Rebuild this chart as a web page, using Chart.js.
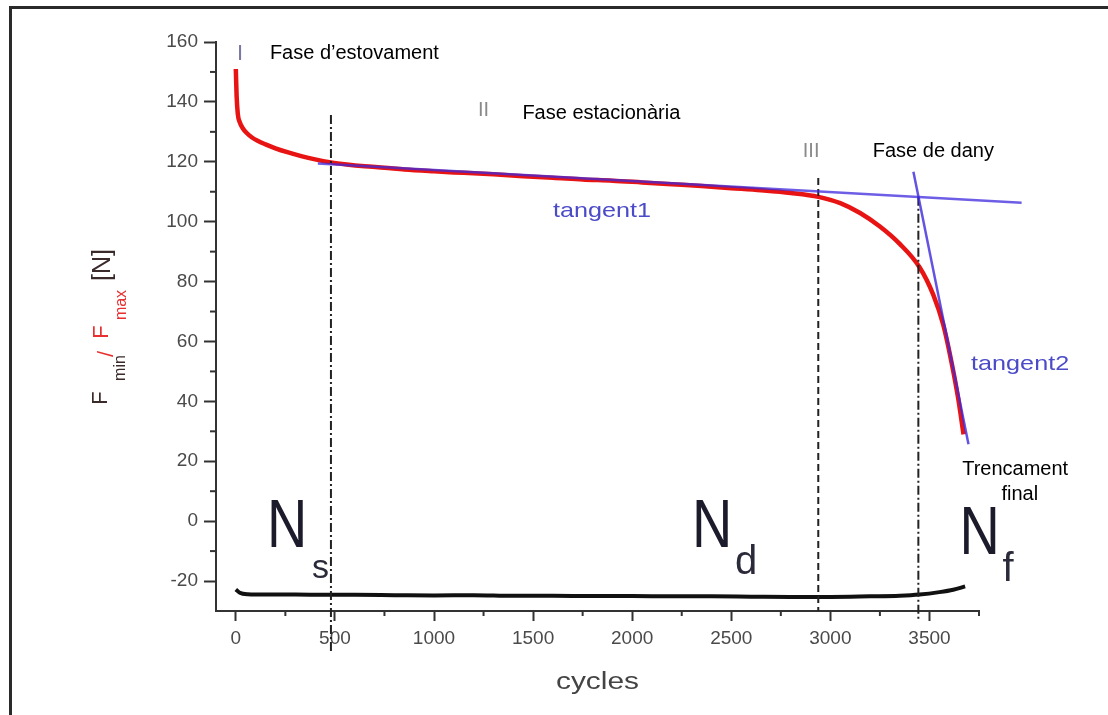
<!DOCTYPE html>
<html>
<head>
<meta charset="utf-8">
<script src="https://cdn.jsdelivr.net/npm/chart.js@4/dist/chart.umd.min.js"></script>
<style>
html,body{margin:0;padding:0;background:#fff;overflow:hidden}
canvas{display:block}
</style>
</head>
<body>
<canvas id="c" width="1108" height="715"></canvas>
<script>
// ---- data ----
const redCycles = [0, 4, 10, 20, 35, 55, 80, 110, 150, 200, 260, 330, 400, 480, 560, 650, 750, 850, 1000, 1150, 1300, 1450, 1600, 1750, 1900, 2050, 2200, 2350, 2500, 2650, 2800, 2940, 3050, 3150, 3250, 3350, 3450, 3520, 3570, 3610, 3645, 3672];
const redForce  = [151, 142, 136, 133.2, 131.2, 129.6, 128.2, 127, 125.8, 124.5, 123.2, 121.9, 120.8, 119.8, 119.1, 118.5, 118.0, 117.4, 116.8, 116.3, 115.8, 115.2, 114.7, 114.1, 113.7, 113.1, 112.5, 111.9, 111.2, 110.5, 109.6, 108.3, 106.2, 102.9, 98.4, 92.6, 84.8, 75.5, 65.5, 53.5, 41, 29];

const blackCycles = [0, 20, 60, 150, 300, 450, 600, 800, 1000, 1200, 1400, 1600, 1800, 2000, 2200, 2400, 2600, 2800, 3000, 3200, 3350, 3450, 3550, 3620, 3680];
const blackForce  = [-22.8, -23.9, -24.4, -24.5, -24.5, -24.6, -24.6, -24.7, -24.8, -24.7, -24.9, -24.9, -25.0, -25.0, -25.1, -25.1, -25.2, -25.3, -25.3, -25.1, -24.9, -24.5, -23.7, -22.9, -21.8];

const tangent1Cycles = [414, 3965];
const tangent1Force  = [119.4, 106.3];
const tangent2Cycles = [3419, 3697];
const tangent2Force  = [116.7, 25.7];

const markerNames  = ['Ns', 'Nd', 'Nf'];
const markerCycles = [480, 2939, 3444];
const markerTop    = [135.6, 114.6, 108.3];
const markerBottom = [-43.5, -30, -33];

const xTickValues = [0, 500, 1000, 1500, 2000, 2500, 3000, 3500];
const yTickValues = [-20, 0, 20, 40, 60, 80, 100, 120, 140, 160];
const xMinorTicks = [250, 750, 1250, 1750, 2250, 2750, 3250, 3750];
const yMinorTicks = [-10, 10, 30, 50, 70, 90, 110, 130, 150];

// ---- annotation texts (data coordinates) ----
const SANS = '"Liberation Sans", Arial, sans-serif';
const labels = [
  {t:'I', x:22, y:156, font:'22px '+SANS, c:'#7a78a0', a:'center'},
  {t:'Fase d\u2019estovament', x:172, y:156.3, font:'20px '+SANS, c:'#000', a:'left'},
  {t:'II', x:1250, y:137, font:'20px '+SANS, c:'#8a8a8a', a:'center'},
  {t:'Fase estacionària', x:1446, y:136, font:'20px '+SANS, c:'#000', a:'left'},
  {t:'III', x:2903, y:123.6, font:'20px '+SANS, c:'#8a8a8a', a:'center'},
  {t:'Fase de dany', x:3214, y:123.6, font:'20px '+SANS, c:'#000', a:'left'},
  {t:'tangent1', x:1600, y:103.4, font:'21px '+SANS, c:'#4b4bc8', a:'left', sx:1.2},
  {t:'tangent2', x:3710, y:52.5, font:'21px '+SANS, c:'#4b4bc8', a:'left', sx:1.2},
  {t:'Trencament', x:3665, y:17.1, font:'20px '+SANS, c:'#000', a:'left'},
  {t:'final', x:3956, y:8.8, font:'20px '+SANS, c:'#000', a:'center'},
  {t:'N', x:157, y:-2.3, font:'68px '+SANS, c:'#1b1b2c', a:'left', sx:0.82},
  {t:'s', x:384, y:-16, font:'34px '+SANS, c:'#2a2a3a', a:'left'},
  {t:'N', x:2302, y:-2.3, font:'68px '+SANS, c:'#1b1b2c', a:'left', sx:0.82},
  {t:'d', x:2519, y:-14, font:'40px '+SANS, c:'#2a2a3a', a:'left'},
  {t:'N', x:3651, y:-4.6, font:'68px '+SANS, c:'#1b1b2c', a:'left', sx:0.82},
  {t:'f', x:3868, y:-16.3, font:'40px '+SANS, c:'#2a2a3a', a:'left'}
];

function pts(xs, ys){ return xs.map((v,i)=>({x:v, y:ys[i]})); }

function drawText(ctx, t, x, y, font, color, align, sx){
  ctx.save();
  ctx.font = font; ctx.fillStyle = color; ctx.textBaseline = 'middle';
  ctx.translate(x, y);
  ctx.scale(sx || 1, 1);
  ctx.textAlign = align || 'left';
  ctx.fillText(t, 0, 0);
  ctx.restore();
}

const decor = {
  id: 'decor',
  beforeDraw(chart){
    const ctx = chart.ctx;
    ctx.save(); ctx.fillStyle = '#fff'; ctx.fillRect(0,0,chart.width,chart.height); ctx.restore();
  },
  afterDraw(chart){
    const {ctx, chartArea:a, scales:{x, y}} = chart;
    ctx.save();
    // minor ticks
    ctx.strokeStyle = '#333'; ctx.lineWidth = 2;
    yMinorTicks.forEach(v=>{ const p = y.getPixelForValue(v); ctx.beginPath(); ctx.moveTo(a.left-6, p); ctx.lineTo(a.left, p); ctx.stroke(); });
    xMinorTicks.forEach(v=>{ const p = x.getPixelForValue(v); ctx.beginPath(); ctx.moveTo(p, a.bottom); ctx.lineTo(p, a.bottom+5); ctx.stroke(); });
    // page frame (top & left)
    ctx.strokeStyle = '#2a2a2a'; ctx.lineWidth = 3;
    ctx.beginPath(); ctx.moveTo(9, 7.5); ctx.lineTo(chart.width, 7.5); ctx.stroke();
    ctx.beginPath(); ctx.moveTo(10.5, 6); ctx.lineTo(10.5, chart.height); ctx.stroke();
    ctx.restore();
    // annotations
    labels.forEach(l => drawText(ctx, l.t, x.getPixelForValue(l.x), y.getPixelForValue(l.y), l.font, l.c, l.a, l.sx));
    // x title
    drawText(ctx, 'cycles', (a.left + a.right)/2, a.bottom + 72, '23px '+SANS, '#444', 'center', 1.3);
    // y title (rotated, mixed colours)
    const parts = [
      {t:'F',   cy:398, bx:107, f:'22px', c:'#3a2a2a'},
      {t:'min', cy:368, bx:125, f:'16px', c:'#3a2a2a'},
      {t:'/',   cy:354, bx:113, f:'22px', c:'#e83030'},
      {t:'F',   cy:332, bx:108, f:'22px', c:'#e83030'},
      {t:'max', cy:305, bx:126, f:'16px', c:'#e83030'},
      {t:'[N]', cy:265, bx:110, f:'25px', c:'#3a2a2a'}
    ];
    parts.forEach(p=>{
      ctx.save();
      ctx.translate(p.bx, p.cy);
      ctx.rotate(-Math.PI/2);
      ctx.font = p.f + ' ' + SANS; ctx.fillStyle = p.c;
      ctx.textAlign = 'center'; ctx.textBaseline = 'alphabetic';
      ctx.fillText(p.t, 0, 0);
      ctx.restore();
    });
  }
};

const markerDash = [[9,3,2,3],[7,4],[9,3,2,3]];
const markerSets = markerNames.map((n,i)=>({
  label: n,
  data: pts([markerCycles[i], markerCycles[i]], [markerTop[i], markerBottom[i]]),
  borderColor: '#222', borderWidth: 2, borderDash: markerDash[i],
  pointRadius: 0, clip: false, order: 0
}));

const plainTick = v => String(v);

new Chart(document.getElementById('c'), {
  type: 'line',
  data: {
    datasets: [
      {label:'tangent1', data: pts(tangent1Cycles, tangent1Force), borderColor:'rgba(60,40,220,0.75)', borderWidth:2.5, pointRadius:0, clip:false, order:0},
      {label:'tangent2', data: pts(tangent2Cycles, tangent2Force), borderColor:'rgba(60,40,220,0.8)', borderWidth:2.5, pointRadius:0, clip:false, order:0},
      ...markerSets,
      {label:'Fmax', data: pts(redCycles, redForce), borderColor:'#e81414', borderWidth:4.5, pointRadius:0, cubicInterpolationMode:'monotone', order:1},
      {label:'Fmin', data: pts(blackCycles, blackForce), borderColor:'#111', borderWidth:4, pointRadius:0, cubicInterpolationMode:'monotone', order:1}
    ]
  },
  options: {
    responsive: false, animation: false, devicePixelRatio: 1,
    layout: { padding: { top: 42, right: 129, bottom: 0, left: 0 } },
    plugins: { legend: { display: false }, tooltip: { enabled: false } },
    scales: {
      x: {
        type: 'linear', min: -100, max: 3750,
        afterBuildTicks: s => { s.ticks = xTickValues.map(v => ({value: v})); },
        afterFit: s => { s.height = 104; },
        ticks: { font: { family: SANS, size: 19 }, color: '#4a4a4a', padding: 6, maxRotation: 0, autoSkip: false, callback: plainTick },
        grid: { display: true, drawOnChartArea: false, drawTicks: true, tickLength: 10, tickWidth: 2, tickColor: '#333' },
        border: { display: true, color: '#333', width: 2 }
      },
      y: {
        type: 'linear', min: -30, max: 160,
        afterBuildTicks: s => { s.ticks = yTickValues.map(v => ({value: v})); },
        afterFit: s => { s.width = 216; },
        ticks: { font: { family: SANS, size: 19 }, color: '#4a4a4a', padding: 6, autoSkip: false, callback: plainTick },
        grid: { display: true, drawOnChartArea: false, drawTicks: true, tickLength: 12, tickWidth: 2, tickColor: '#333' },
        border: { display: true, color: '#333', width: 2 }
      }
    }
  },
  plugins: [decor]
});
</script>
</body>
</html>
